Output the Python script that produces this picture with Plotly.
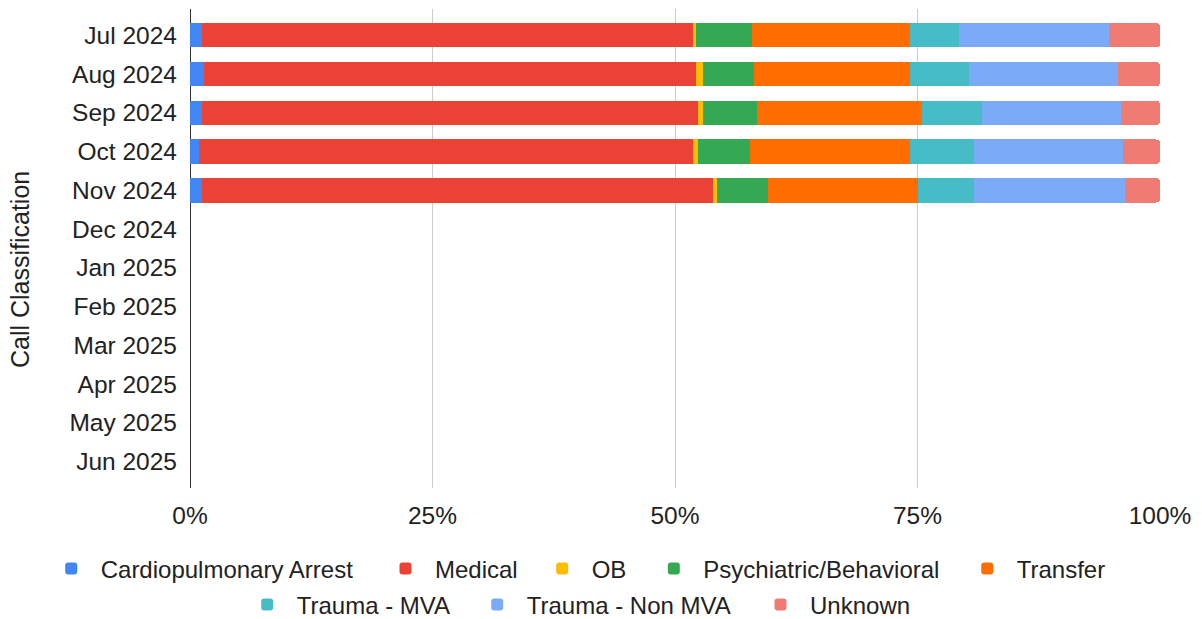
import plotly.graph_objects as go

months = ["Jul 2024", "Aug 2024", "Sep 2024", "Oct 2024", "Nov 2024", "Dec 2024",
          "Jan 2025", "Feb 2025", "Mar 2025", "Apr 2025", "May 2025", "Jun 2025"]
data_months = ["Jul 2024", "Aug 2024", "Sep 2024", "Oct 2024", "Nov 2024"]

cardiopulmonary_arrest = [1.25, 1.4, 1.25, 0.96, 1.25]
medical = [50.65, 50.8, 51.15, 50.94, 52.65]
ob = [0.3, 0.65, 0.45, 0.5, 0.4]
psychiatric_behavioral = [5.7, 5.25, 5.65, 5.3, 5.3]
transfer = [16.3, 16.1, 17.0, 16.5, 15.4]
trauma_mva = [5.1, 6.1, 6.1, 6.6, 5.8]
trauma_non_mva = [15.4, 15.4, 14.4, 15.4, 15.6]
unknown = [5.3, 4.3, 4.0, 3.8, 3.6]

series_names = ["Cardiopulmonary Arrest", "Medical", "OB", "Psychiatric/Behavioral",
                "Transfer", "Trauma - MVA", "Trauma - Non MVA", "Unknown"]
series_values = [cardiopulmonary_arrest, medical, ob, psychiatric_behavioral,
                 transfer, trauma_mva, trauma_non_mva, unknown]
series_colors = ["#4285F4", "#EA4335", "#FBBC04", "#34A853",
                 "#FF6D01", "#46BDC6", "#7BAAF7", "#F07B72"]

# legend layout (pixel position of each entry's label start and row centre)
legend_text_x = [100.7, 435, 591.7, 703.3, 1016.7, 296.7, 526.7, 810]
legend_row_y = [569, 569, 569, 569, 569, 605, 605, 605]

tick_vals = [0, 25, 50, 75, 100]
tick_text = [f"{v}%" for v in tick_vals]

W, H = 1202, 619
FONT = "Liberation Sans, Arial, sans-serif"
TXT = "#222222"
ITEMW = 49

fig = go.Figure()
legend_layouts = {}
for i, (name, vals, color) in enumerate(zip(series_names, series_values, series_colors)):
    lid = "legend" if i == 0 else f"legend{i + 1}"
    fig.add_trace(go.Bar(
        y=data_months, x=vals, name=name, orientation="h", legend=lid,
        marker=dict(color=color, line=dict(width=0)),
    ))
    legend_layouts[lid] = dict(
        orientation="h", xref="container", yref="container",
        x=(legend_text_x[i] - 10 - ITEMW) / W, xanchor="left",
        y=1 - legend_row_y[i] / H, yanchor="middle",
        font=dict(size=24, color=TXT), bgcolor="rgba(0,0,0,0)",
        itemwidth=ITEMW, borderwidth=0,
    )

fig.update_layout(
    barmode="stack",
    barnorm="percent",
    bargap=0.374,
    barcornerradius=4,
    width=W, height=H,
    margin=dict(l=190, r=42, t=9, b=131, autoexpand=False),
    paper_bgcolor="white", plot_bgcolor="white",
    font=dict(family=FONT, size=24.5, color=TXT),
    showlegend=True,
    xaxis=dict(range=[0, 100], tickmode="array", tickvals=tick_vals, ticktext=tick_text,
               showgrid=True, gridcolor="#cccccc", gridwidth=1,
               zeroline=True, zerolinecolor="#333333", zerolinewidth=1,
               showline=False, ticks="", ticklabelstandoff=10, fixedrange=True),
    yaxis=dict(type="category", categoryorder="array", categoryarray=months,
               range=[11.68, -0.68], showgrid=False, zeroline=False,
               showline=False, ticks="", ticklabelstandoff=12),
    annotations=[dict(text="Call Classification", textangle=-90, xref="paper", yref="paper",
                      x=0, y=0.455, xanchor="center", yanchor="middle", xshift=-170,
                      showarrow=False, font=dict(size=25, color=TXT))],
    **legend_layouts,
)

fig.write_html("out.html")
